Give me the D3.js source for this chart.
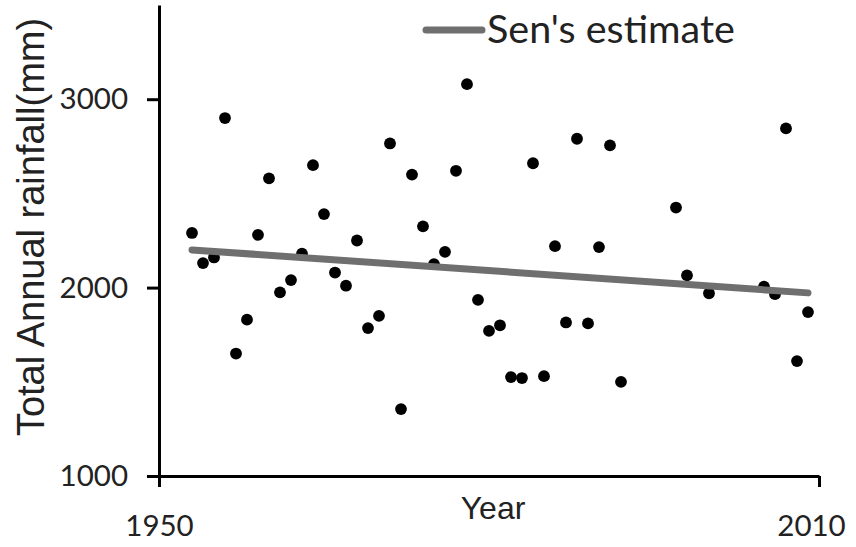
<!DOCTYPE html>
<html>
<head>
<meta charset="utf-8">
<script src="https://cdn.jsdelivr.net/npm/d3@7"></script>
<style>
  body { margin: 0; background: #fff; }
  svg { display: block; font-family: Lato, "Open Sans", sans-serif; }
</style>
</head>
<body>
<svg id="drawing_region"></svg>
<script>
// annual totals
const years = [1953, 1954, 1955, 1956, 1957, 1958, 1959, 1960, 1961, 1962,
               1963, 1964, 1965, 1966, 1967, 1968, 1969, 1970, 1971, 1972,
               1973, 1974, 1975, 1976, 1977, 1978, 1979, 1980, 1981, 1982,
               1983, 1984, 1985, 1986, 1987, 1988, 1989, 1990, 1991, 1992,
               1997, 1998, 2000, 2005, 2006, 2007, 2008, 2009];
const rainfall = [2290, 2130, 2160, 2900, 1650, 1830, 2280, 2580, 1975, 2040,
                  2180, 2650, 2390, 2080, 2010, 2250, 1785, 1850, 2765, 1355,
                  2600, 2325, 2125, 2190, 2620, 3080, 1935, 1770, 1800, 1525,
                  1520, 2660, 1530, 2220, 1815, 2790, 1810, 2215, 2755, 1500,
                  2425, 2065, 1970, 2005, 1965, 2845, 1610, 1870];
const senYears = [1953, 2009];
const senValues = [2200, 1972];
const xTicks = [1950, 2010];
const yTicks = [1000, 2000, 3000];

const data = years.map((y, i) => ({ x: y, y: rainfall[i] }));
const sen = senYears.map((y, i) => ({ x: y, y: senValues[i] }));

const config = {
    width: 856,
    height: 547,
    margin: {top: 5, right: 37, bottom: 71, left: 159}
};

const svg = d3.select('#drawing_region')
    .attr('width', config.width)
    .attr('height', config.height);

const inner_width = config.width - config.margin.left - config.margin.right;
const inner_height = config.height - config.margin.top - config.margin.bottom;

const chart = svg.append('g')
    .attr('transform', `translate(${config.margin.left}, ${config.margin.top})`);

const xscale = d3.scaleLinear().domain([1950, 2010]).range([0, inner_width]);
const yscale = d3.scaleLinear().domain([1000, 3500]).range([inner_height, 0]);

// points
chart.selectAll('circle')
    .data(data)
    .enter()
    .append('circle')
    .attr('cx', d => xscale(d.x))
    .attr('cy', d => yscale(d.y))
    .attr('r', 5.9)
    .attr('fill', '#000');

// Sen's slope line
const line = d3.line().x(d => xscale(d.x)).y(d => yscale(d.y));
chart.append('path')
    .datum(sen)
    .attr('d', line)
    .attr('fill', 'none')
    .attr('stroke', '#6f6f6f')
    .attr('stroke-width', 7)
    .attr('stroke-linecap', 'round');

// axes
const xaxis_group = chart.append('g')
    .attr('transform', `translate(0, ${inner_height})`)
    .call(d3.axisBottom(xscale).tickValues(xTicks).tickFormat(d3.format('d'))
        .tickSize(11).tickSizeOuter(0).tickPadding(28));

const yaxis_group = chart.append('g')
    .call(d3.axisLeft(yscale).tickValues(yTicks).tickFormat(d3.format('d'))
        .tickSize(12).tickSizeOuter(0).tickPadding(19));

[xaxis_group, yaxis_group].forEach(g => {
    g.select('.domain').attr('stroke', '#000').attr('stroke-width', 3);
    g.selectAll('.tick line').attr('stroke', '#000').attr('stroke-width', 3);
    g.selectAll('.tick text')
        .attr('fill', '#222')
        .attr('font-size', '29.5px')
        .attr('font-family', 'Lato, sans-serif');
});

// keep the 2010 label inside the picture, as in the original
xaxis_group.selectAll('.tick text').filter(d => d === 2010).attr('dx', -8);

xaxis_group.append('text')
    .attr('fill', '#222')
    .attr('x', xscale(1980) + 4)
    .attr('y', 43)
    .attr('text-anchor', 'middle')
    .attr('font-size', '32px')
    .text('Year');

yaxis_group.append('text')
    .attr('fill', '#222')
    .attr('x', -(222))
    .attr('y', -115)
    .attr('text-anchor', 'middle')
    .attr('font-size', '38px')
    .attr('transform', 'rotate(-90)')
    .text('Total Annual rainfall(mm)');

// legend
const legend = svg.append('g')
    .attr('transform', 'translate(426, 30)');
legend.append('line')
    .attr('x1', 0).attr('x2', 56)
    .attr('y1', 0).attr('y2', 0)
    .attr('stroke', '#6f6f6f')
    .attr('stroke-width', 7)
    .attr('stroke-linecap', 'round');
legend.append('text')
    .attr('x', 61)
    .attr('y', 13)
    .attr('fill', '#222')
    .attr('font-size', '39.5px')
    .text("Sen's estimate");
</script>
</body>
</html>
